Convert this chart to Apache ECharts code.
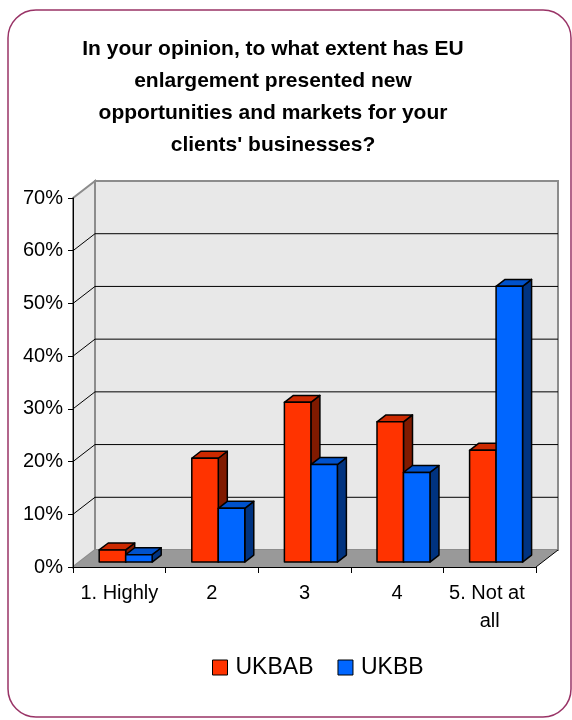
<!DOCTYPE html>
<html><head><meta charset="utf-8">
<script src="https://cdn.jsdelivr.net/npm/echarts@6/dist/echarts.min.js"></script>
<style>html,body{margin:0;padding:0;background:#fff}#c{width:572px;height:720px}</style>
</head><body><div id="c"></div>
<script>
// ---- data ----
const categories = ['1. Highly', '2', '3', '4', '5. Not at all'];
const seriesNames = ['UKBAB', 'UKBB'];
const ukbab = [0.023, 0.197, 0.303, 0.266, 0.212];
const ukbb = [0.014, 0.102, 0.185, 0.170, 0.523];
const gridTickValues = [0.1, 0.2, 0.3, 0.4, 0.5, 0.6];
const titleText = "In your opinion, to what extent has EU\nenlargement presented new\nopportunities and markets for your\nclients' businesses?";

// ---- style ----
const FONT = "'Liberation Sans', Arial, sans-serif";
const DX = 22, DY = -17;          // depth of the 3D box
const BAR_OFF = 0.29, BAR_DEPTH = 0.41, BAR_W = 0.286;
const palette = [
  { front: '#ff3300', top: '#cc2900', side: '#801a00' },
  { front: '#0066ff', top: '#0052cc', side: '#003380' }
];

const chart = echarts.init(document.getElementById('c'), null, { renderer: 'canvas' });

function renderWalls(params, api) {
  const cs = params.coordSys;
  const x0 = cs.x, x1 = cs.x + cs.width, yT = cs.y, yB = cs.y + cs.height;
  const ch = [];
  ch.push({ type: 'rect', shape: { x: x0 + DX, y: yT + DY, width: cs.width, height: cs.height },
    style: { fill: '#e8e8e8', stroke: '#8c8c8c', lineWidth: 2 } });
  ch.push({ type: 'polygon', shape: { points: [[x0, yB], [x0, yT], [x0 + DX, yT + DY], [x0 + DX, yB + DY]] },
    style: { fill: '#e8e8e8', stroke: '#8c8c8c', lineWidth: 2 } });
  ch.push({ type: 'polygon', shape: { points: [[x0, yB], [x1, yB], [x1 + DX, yB + DY], [x0 + DX, yB + DY]] },
    style: { fill: '#999999' } });
  ch.push({ type: 'line', shape: { x1: x1, y1: yB, x2: x1 + DX, y2: yB + DY }, style: { stroke: '#000', lineWidth: 1 } });
  gridTickValues.forEach(function (v) {
    const y = api.coord([0, v])[1];
    ch.push({ type: 'polyline', shape: { points: [[x0, y], [x0 + DX, y + DY], [x1 + DX, y + DY]] },
      style: { stroke: '#000', lineWidth: 1, fill: null } });
  });
  return { type: 'group', children: ch };
}

function barRenderer(si) {
  const c = palette[si];
  return function (params, api) {
    const ci = api.value(0), v = api.value(1);
    const top = api.coord([ci, v]);
    const base = api.coord([ci, 0]);
    const bw = api.size([1, 0])[0];
    const w = bw * BAR_W;
    const ox = DX * BAR_OFF, oy = DY * BAR_OFF;
    const ddx = DX * BAR_DEPTH, ddy = DY * BAR_DEPTH;
    const xl = top[0] + ox + (si === 0 ? -w : 0);
    const xr = xl + w;
    const yt = top[1] + oy, yb = base[1] + oy;
    const st = { stroke: '#000', lineWidth: 1.5, lineJoin: 'round' };
    return { type: 'group', children: [
      { type: 'polygon', shape: { points: [[xr, yb], [xr, yt], [xr + ddx, yt + ddy], [xr + ddx, yb + ddy]] },
        style: Object.assign({ fill: c.side }, st) },
      { type: 'polygon', shape: { points: [[xl, yt], [xr, yt], [xr + ddx, yt + ddy], [xl + ddx, yt + ddy]] },
        style: Object.assign({ fill: c.top }, st) },
      { type: 'rect', shape: { x: xl, y: yt, width: w, height: yb - yt },
        style: Object.assign({ fill: c.front }, st) }
    ] };
  };
}

const option = {
  backgroundColor: '#ffffff',
  animation: false,
  textStyle: { fontFamily: FONT },
  title: {
    text: titleText, left: 268, top: 28, textAlign: 'center',
    textStyle: { fontSize: 21, fontWeight: 'bold', color: '#000', lineHeight: 32, fontFamily: FONT }
  },
  graphic: [{
    type: 'rect', z: -10, silent: true,
    shape: { x: 8, y: 10, width: 563, height: 707, r: 28 },
    style: { fill: null, stroke: '#993366', lineWidth: 1.5 }
  }],
  legend: {
    data: seriesNames, left: 207, top: 651, icon: 'rect', itemWidth: 15, itemHeight: 15, itemGap: 24,
    itemStyle: { borderColor: '#000', borderWidth: 1 },
    textStyle: { fontSize: 23, color: '#000', fontFamily: FONT, padding: [0, 0, 0, 3] }
  },
  grid: { left: 73, right: 36, top: 198, bottom: 153, containLabel: false },
  xAxis: {
    type: 'category', data: categories, z: 5,
    axisLine: { lineStyle: { color: '#000', width: 1 } },
    axisTick: { show: true, length: 6, lineStyle: { color: '#000' } },
    axisLabel: { fontSize: 20, color: '#000', margin: 12, lineHeight: 28, width: 92, overflow: 'break', interval: 0, fontFamily: FONT },
    splitLine: { show: false }
  },
  yAxis: {
    type: 'value', min: 0, max: 0.7, interval: 0.1, z: 5,
    axisLine: { show: true, lineStyle: { color: '#000', width: 1 } },
    axisTick: { show: true, length: 5, lineStyle: { color: '#000' } },
    axisLabel: { fontSize: 20, color: '#000', margin: 10, fontFamily: FONT,
      formatter: function (v) { return Math.round(v * 100) + '%'; } },
    splitLine: { show: false }
  },
  series: [
    { type: 'custom', name: '_walls', z: 0, silent: true, renderItem: renderWalls, data: [[0, 0]], encode: { x: 0, y: 1 } },
    { type: 'custom', name: seriesNames[0], z: 2, renderItem: barRenderer(0), itemStyle: { color: palette[0].front },
      data: ukbab.map(function (v, i) { return [i, v]; }), encode: { x: 0, y: 1 } },
    { type: 'custom', name: seriesNames[1], z: 3, renderItem: barRenderer(1), itemStyle: { color: palette[1].front },
      data: ukbb.map(function (v, i) { return [i, v]; }), encode: { x: 0, y: 1 } }
  ]
};
chart.setOption(option);
</script>
</body></html>
